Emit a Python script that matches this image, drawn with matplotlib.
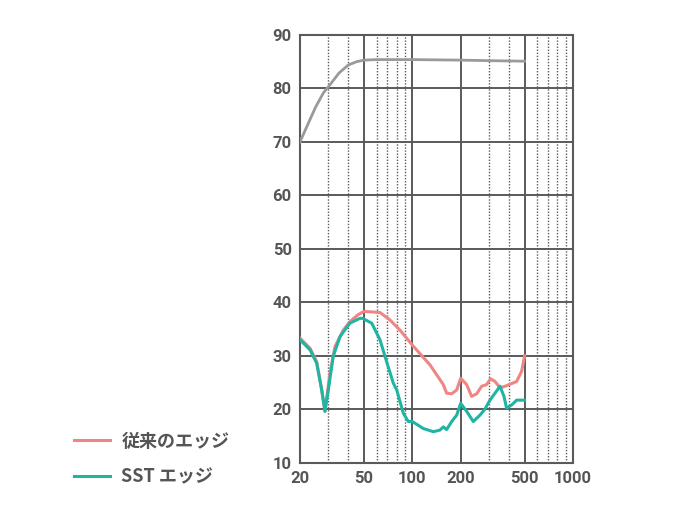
import numpy as np
import matplotlib.pyplot as plt

plt.rcParams['font.family'] = ['Roboto', 'Noto Sans CJK JP', 'DejaVu Sans']

# gray reference curve
gray_f = [20, 22, 25, 28, 30, 35, 40, 45, 50, 60, 70, 100, 200, 300, 500]
gray_v = [70, 72.8, 76.5, 79.2, 80.3, 82.9, 84.4, 85.0, 85.3, 85.4, 85.4, 85.4, 85.3, 85.2, 85.1]

# conventional edge
conv_f = [20, 23.1, 25.4, 27.3, 28.6, 30.7, 33.0, 37.2, 40.9, 46.1, 50, 62.9, 72.6, 83.8, 100,
          128.8, 156, 163.6, 175.8, 188.9, 200, 217.9, 234, 251.6, 270, 290, 307, 327, 351.5,
          386, 446, 479, 500]
conv_v = [33.3, 31.4, 28.9, 23.6, 19.6, 26.7, 31.7, 34.8, 36.4, 37.7, 38.3, 38.1, 36.7, 34.8, 32.0,
          28.3, 24.6, 23.0, 22.9, 23.6, 25.8, 24.6, 22.4, 22.9, 24.3, 24.6, 25.7, 25.2, 24.0,
          24.4, 25.2, 27.1, 30.0]

# SST edge
sst_f = [20, 23.1, 25.4, 27.3, 28.6, 30.0, 32.2, 35.5, 40.9, 47.2, 49, 55.9, 62.9, 69.2, 76.1,
         80, 87.9, 94.4, 100, 117, 135, 148.6, 156, 163.6, 175.8, 188.9, 200, 218, 239.5, 263.7,
         283, 304, 327, 351.5, 372, 386, 415, 446, 500]
sst_v = [33.0, 31.1, 28.6, 23.6, 19.6, 23.6, 29.9, 33.6, 36.1, 37.0, 37.0, 36.1, 33.0, 28.9, 24.9,
         23.6, 19.25, 17.7, 17.7, 16.4, 15.8, 16.1, 16.7, 16.2, 17.7, 18.9, 21.1, 19.6, 17.7, 18.9,
         20.0, 21.7, 23.0, 24.3, 22.4, 20.2, 20.8, 21.7, 21.7]

solid_x = [50, 100, 200, 500]
dotted_x = [30, 40, 60, 70, 80, 90, 300, 400, 600, 700, 800, 900]
xticks = [20, 50, 100, 200, 500, 1000]
yticks = list(range(10, 100, 10))

grid_c = '#5a5a5a'
text_c = '#555555'

fig = plt.figure(figsize=(6.74, 5.2), dpi=100)
ax = fig.add_axes([300 / 674, 1 - 462.7 / 520, 273 / 674, (462.7 - 35) / 520])
ax.set_xscale('log')
ax.set_xlim(20, 1000)
ax.set_ylim(10, 90)

for y in yticks:
    ax.axhline(y, color=grid_c, lw=1.4, zorder=1)
for x in solid_x:
    ax.axvline(x, color=grid_c, lw=1.4, zorder=1)
for x in dotted_x:
    ax.axvline(x, color=grid_c, lw=1.0, ls=(0, (1, 1.2)), zorder=1)

ax.plot(gray_f, gray_v, color='#9a9a9a', lw=2, zorder=3, solid_joinstyle='round')
l1, = ax.plot(conv_f, conv_v, color='#ef8585', lw=2.2, zorder=3, solid_joinstyle='round')
l2, = ax.plot(sst_f, sst_v, color='#1fb5a3', lw=2.2, zorder=4, solid_joinstyle='round')

for s in ax.spines.values():
    s.set_color(grid_c)
    s.set_linewidth(1.5)

ax.set_xticks(xticks)
ax.set_xticklabels([str(t) for t in xticks])
ax.minorticks_off()
ax.set_yticks(yticks)
ax.tick_params(length=0, labelsize=12, labelcolor=text_c, pad=6)
for lab in ax.get_xticklabels() + ax.get_yticklabels():
    lab.set_fontweight('bold')

fig.legend([l1, l2], ['従来のエッジ', 'SST エッジ'], loc='lower left',
           bbox_to_anchor=(58 / 674, 1 - 503 / 520), frameon=False,
           handlelength=2.0, handletextpad=0.6, labelspacing=0.95,
           prop={'family': ['Noto Sans CJK JP', 'DejaVu Sans'], 'size': 13, 'weight': 'bold'},
           labelcolor=text_c)

fig.savefig('out.png', dpi=100)
